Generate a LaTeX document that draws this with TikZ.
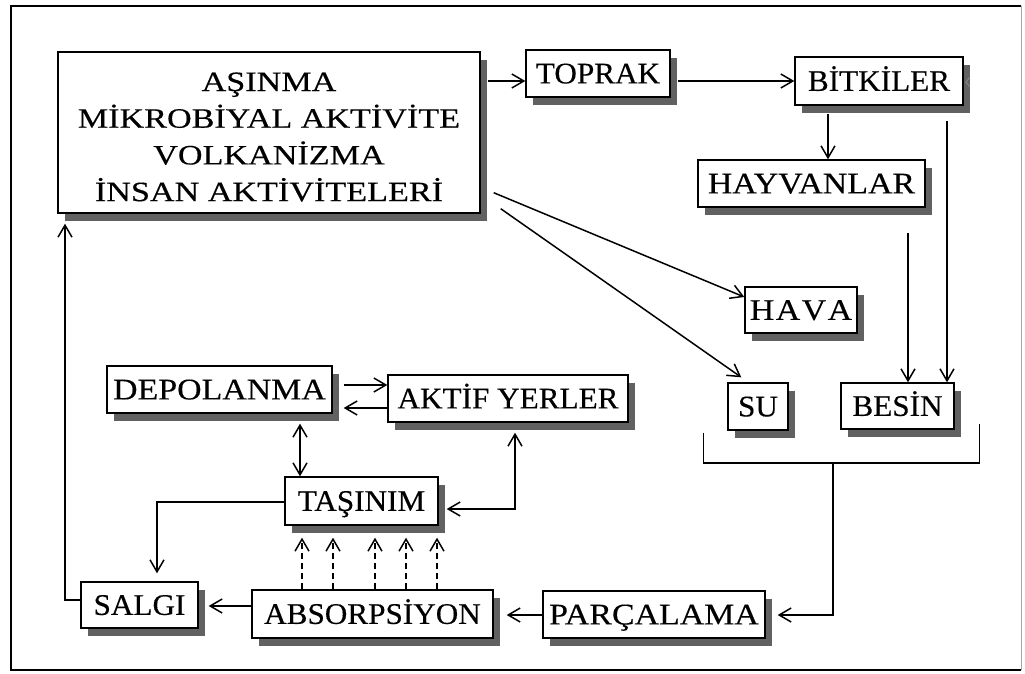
\documentclass[tikz,border=0pt]{standalone}
\usepackage{fontspec}
\setmainfont{Liberation Serif}[FakeStretch=1.04, FakeBold=0.35]
\newfontfamily\roomyfont{Liberation Serif}[FakeStretch=1.13, FakeBold=0.35]
\newfontfamily\widefont{Liberation Serif}[FakeStretch=1.22, FakeBold=0.35]
\usetikzlibrary{arrows.meta,shadows}

\tikzset{
  box/.style={draw, line width=1.4pt, fill=white, inner sep=0pt,
    font=\fontsize{30}{32}\selectfont, text height=19.8pt, text depth=0pt,
    general shadow={fill=black!62, shadow xshift=7pt, shadow yshift=-8pt}},
  roomy/.style={font=\roomyfont\fontsize{30}{32}\selectfont},
  conn/.style={line width=1.5pt},
  tip/.tip={Straight Barb[length=12pt,width=14pt,line width=1.5pt]},
  arr/.style={conn, -tip},
  darr/.style={conn, tip-tip},
  dasharr/.style={arr, dash pattern=on 6pt off 4pt},
}

\begin{document}
\begin{tikzpicture}[x=1pt, y=-1pt]
\useasboundingbox (0,0) rectangle (1025,674);

% outer frame
\draw[line width=1.6pt] (1021,6) -- (11,6) -- (11,670) -- (1021,670);
\draw[line width=1pt, black!35] (1021,6) -- (1021,670);

% boxes
\node[box, minimum width=422pt, minimum height=161pt] (big) at (269,132.5) {};
\node[font=\widefont\fontsize{28}{36.7}\selectfont, align=center, inner sep=0pt] (bigtext) at (269,137)
  {AŞINMA\\MİKROBİYAL AKTİVİTE\\VOLKANİZMA\\İNSAN AKTİVİTELERİ};

\node[box, minimum width=144pt, minimum height=47pt] (toprak) at (598,73.5) {TOPRAK};
\node[box, minimum width=168pt, minimum height=48pt] (bitkiler) at (879,81) {BİTKİLER};
\node[box, roomy, minimum width=227pt, minimum height=47pt] (hayvanlar) at (811.5,183.5) {HAYVANLAR};
\node[box, roomy, minimum width=112pt, minimum height=46pt] (hava) at (801,310) {H\kern1.5pt A\kern1.5pt V\kern1.5pt A};
\node[box, minimum width=60pt, minimum height=47pt] (su) at (758,406.5) {SU};
\node[box, minimum width=113pt, minimum height=46pt] (besin) at (897.5,406) {BESİN};
\node[box, roomy, minimum width=225pt, minimum height=47pt] (depolanma) at (219.5,389.5) {DEPOLANMA};
\node[box, minimum width=240pt, minimum height=47pt] (aktif) at (508,398.5) {AKTİF YERLER};
\node[box, minimum width=153pt, minimum height=48pt] (tasinim) at (361.5,501) {TAŞINIM};
\node[box, minimum width=117pt, minimum height=46pt] (salgi) at (139.5,605) {SALGI};
\node[box, minimum width=241pt, minimum height=48pt] (absorp) at (372.5,614) {ABSORPSİYON};
\node[box, roomy, minimum width=222pt, minimum height=47pt] (parcalama) at (654,614.5) {PARÇALAMA};

% upper chain
\draw[arr] ([xshift=7pt]big.east |- 0,81) -- (toprak.west |- 0,81);
\draw[arr] ([xshift=7pt]toprak.east |- bitkiler.west) -- (bitkiler.west);
\draw[arr] ([yshift=-8pt]bitkiler.south -| 828,0) -- (hayvanlar.north -| 828,0);
\draw[arr] (hayvanlar.south -| 908,0) ++(0,25) -- (besin.north -| 908,0);
\draw[arr] (bitkiler.south -| 947,0) ++(0,15) -- (besin.north -| 947,0);
\draw[arr] ([xshift=13pt,yshift=21pt]big.south east) -- ([yshift=13pt]hava.west);
\draw[arr] ([xshift=20pt,yshift=5pt]big.south east) -- ([xshift=14pt,yshift=5pt]su.north west);

% bracket under SU and BESİN, leading to PARÇALAMA
\coordinate (brl) at ([xshift=-24pt,yshift=-2pt]su.south west);
\coordinate (brr) at ([xshift=25pt,yshift=6pt]besin.south east);
\coordinate (brm) at (833,463);
\draw[conn] (brl) -- (brl |- brm) -- (brr |- brm) -- (brr);
\draw[arr] (brm) -- (brm |- 0,615) -- ([xshift=12pt]parcalama.east |- 0,615);

% lower chain
\draw[arr] (parcalama.west |- 0,615) -- ([xshift=13pt]absorp.east |- 0,615);
\draw[arr] (absorp.west |- 0,606) -- ([xshift=10pt]salgi.east |- 0,606);
\draw[arr] (salgi.west |- 0,600) -- (65,600) -- ([yshift=-10pt]big.south -| 65,0);
\draw[arr] (tasinim.west |- 0,502) -- (157,502) -- ([yshift=8pt]salgi.north -| 157,0);
\draw[darr] ([xshift=8pt]tasinim.east |- 0,509) -- (515,509) -- ([yshift=-10pt]aktif.south -| 515,0);
\draw[darr] ([yshift=-10pt]depolanma.south -| 300,0) -- (tasinim.north -| 300,0);
\draw[arr] ([xshift=11pt]depolanma.east |- 0,385) -- (aktif.west |- 0,385);
\draw[arr] (aktif.west |- 0,408) -- ([xshift=11pt]depolanma.east |- 0,408);

% dashed transfer from ABSORPSİYON up to TAŞINIM
\foreach \x in {302,333,375,406,437}
  \draw[dasharr] (absorp.north -| \x,0) -- ([yshift=-12pt]tasinim.south -| \x,0);

% small mark beside BİTKİLER
\draw[black!45, line width=0.8pt] (970,77) -- (966,82) -- (970,87);
\end{tikzpicture}
\end{document}
